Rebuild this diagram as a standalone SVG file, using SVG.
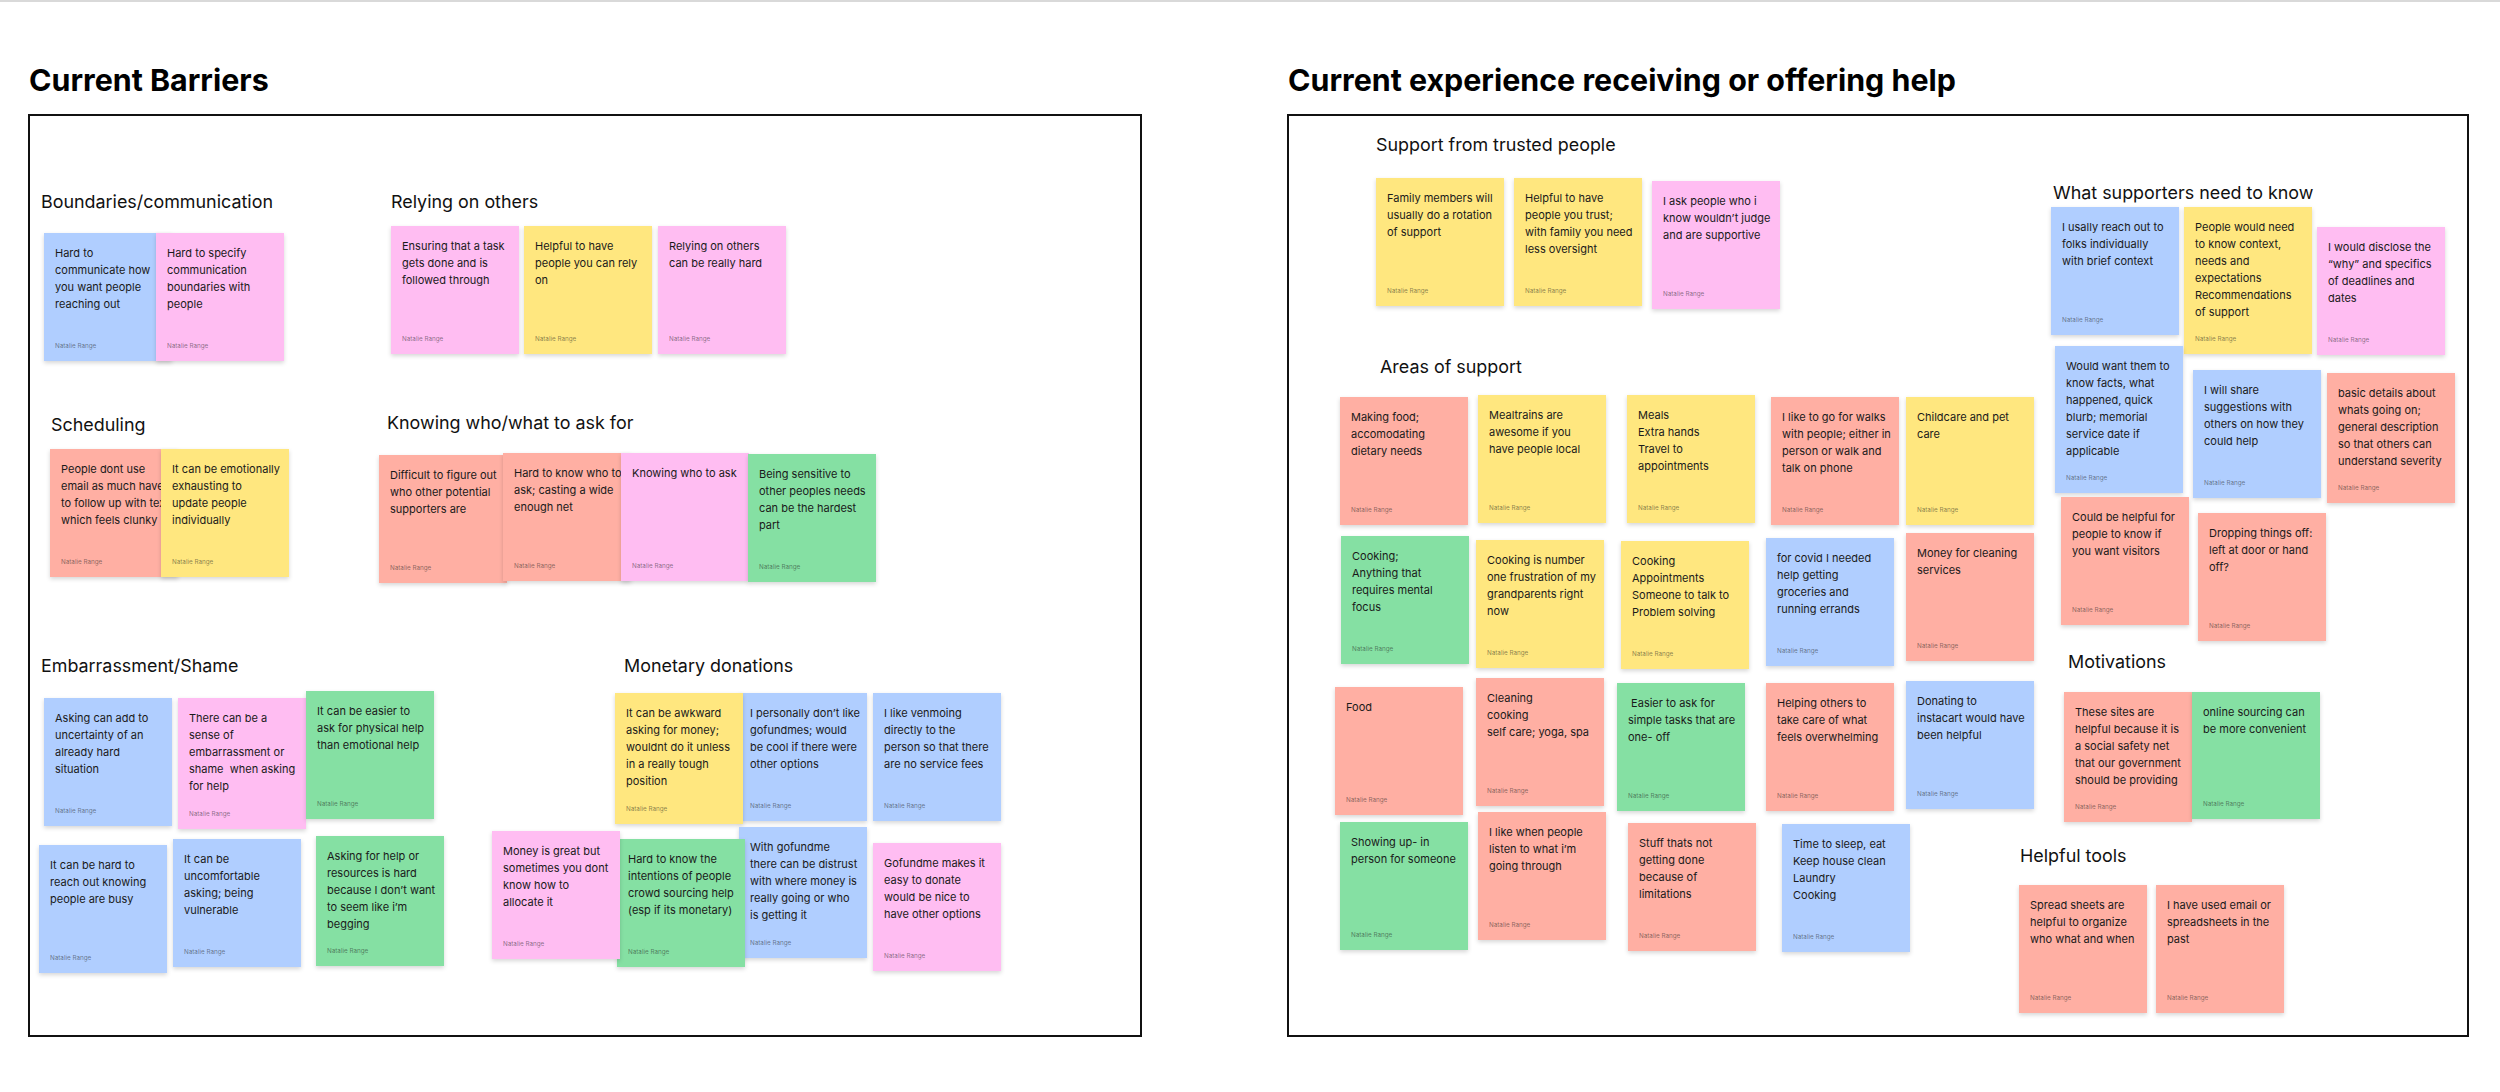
<svg xmlns="http://www.w3.org/2000/svg" width="2500" height="1092" viewBox="0 0 2500 1092">
<defs>
<filter id="sh" x="-10%" y="-10%" width="120%" height="125%"><feDropShadow dx="0" dy="2" stdDeviation="2" flood-color="#000" flood-opacity="0.16"/></filter>
<style>
text{font-family:Inter,"Noto Sans","Liberation Sans",sans-serif;white-space:pre}
.T{font-size:30.4px;font-weight:700;fill:#000}
.h{font-size:17.9px;fill:#111}
.t{font-size:11px;fill:#1a1a1a}
.a{font-size:6.3px;fill:#1e1e1e;fill-opacity:0.55}
.frame{fill:none;stroke:#111;stroke-width:2}
rect.s{filter:url(#sh)}
.Y{fill:#FFE77F}.P{fill:#FFBDF2}.B{fill:#B0CEFF}.G{fill:#85E0A3}.R{fill:#FFAFA3}
</style>
</defs>
<rect x="0" y="0" width="2500" height="1092" fill="#fff"/>
<rect x="0" y="0" width="2500" height="2" fill="#d9d9d9"/>

<g id="title-left"><text class="T" x="29" y="91">Current Barriers</text></g>
<g id="title-right"><text class="T" x="1288" y="91">Current experience receiving or offering help</text></g>
<g id="frame-left"><rect class="frame" x="29" y="115" width="1112" height="921"/></g>
<g id="frame-right"><rect class="frame" x="1288" y="115" width="1180" height="921"/></g>

<g id="headings">
<text class="h" x="41" y="208">Boundaries/communication</text>
<text class="h" x="391" y="208">Relying on others</text>
<text class="h" x="51" y="431">Scheduling</text>
<text class="h" x="387" y="429">Knowing who/what to ask for</text>
<text class="h" x="41" y="672">Embarrassment/Shame</text>
<text class="h" x="624" y="672">Monetary donations</text>
<text class="h" x="1376" y="151">Support from trusted people</text>
<text class="h" x="1380" y="373">Areas of support</text>
<text class="h" x="2053" y="199">What supporters need to know</text>
<text class="h" x="2068" y="668">Motivations</text>
<text class="h" x="2020" y="862">Helpful tools</text>
</g>

<!-- Left panel notes -->
<g id="n1" transform="translate(44,233)"><rect class="s B" width="128" height="128"/><text class="t"><tspan x="11" y="24">Hard to</tspan><tspan x="11" y="41">communicate how</tspan><tspan x="11" y="58">you want people</tspan><tspan x="11" y="75">reaching out</tspan></text><text class="a" x="11" y="115">Natalie Range</text></g>
<g id="n2" transform="translate(156,233)"><rect class="s P" width="128" height="128"/><text class="t"><tspan x="11" y="24">Hard to specify</tspan><tspan x="11" y="41">communication</tspan><tspan x="11" y="58">boundaries with</tspan><tspan x="11" y="75">people</tspan></text><text class="a" x="11" y="115">Natalie Range</text></g>
<g id="n3" transform="translate(391,226)"><rect class="s P" width="128" height="128"/><text class="t"><tspan x="11" y="24">Ensuring that a task</tspan><tspan x="11" y="41">gets done and is</tspan><tspan x="11" y="58">followed through</tspan></text><text class="a" x="11" y="115">Natalie Range</text></g>
<g id="n4" transform="translate(524,226)"><rect class="s Y" width="128" height="128"/><text class="t"><tspan x="11" y="24">Helpful to have</tspan><tspan x="11" y="41">people you can rely</tspan><tspan x="11" y="58">on</tspan></text><text class="a" x="11" y="115">Natalie Range</text></g>
<g id="n5" transform="translate(658,226)"><rect class="s P" width="128" height="128"/><text class="t"><tspan x="11" y="24">Relying on others</tspan><tspan x="11" y="41">can be really hard</tspan></text><text class="a" x="11" y="115">Natalie Range</text></g>
<g id="n6" transform="translate(50,449)"><rect class="s R" width="128" height="128"/><text class="t"><tspan x="11" y="24">People dont use</tspan><tspan x="11" y="41">email as much have</tspan><tspan x="11" y="58">to follow up with text</tspan><tspan x="11" y="75">which feels clunky</tspan></text><text class="a" x="11" y="115">Natalie Range</text></g>
<g id="n7" transform="translate(161,449)"><rect class="s Y" width="128" height="128"/><text class="t"><tspan x="11" y="24">It can be emotionally</tspan><tspan x="11" y="41">exhausting to</tspan><tspan x="11" y="58">update people</tspan><tspan x="11" y="75">individually</tspan></text><text class="a" x="11" y="115">Natalie Range</text></g>
<g id="n8" transform="translate(379,455)"><rect class="s R" width="128" height="128"/><text class="t"><tspan x="11" y="24">Difficult to figure out</tspan><tspan x="11" y="41">who other potential</tspan><tspan x="11" y="58">supporters are</tspan></text><text class="a" x="11" y="115">Natalie Range</text></g>
<g id="n9" transform="translate(503,453)"><rect class="s R" width="128" height="128"/><text class="t"><tspan x="11" y="24">Hard to know who to</tspan><tspan x="11" y="41">ask; casting a wide</tspan><tspan x="11" y="58">enough net</tspan></text><text class="a" x="11" y="115">Natalie Range</text></g>
<g id="n10" transform="translate(621,453)"><rect class="s P" width="128" height="128"/><text class="t"><tspan x="11" y="24">Knowing who to ask</tspan></text><text class="a" x="11" y="115">Natalie Range</text></g>
<g id="n11" transform="translate(748,454)"><rect class="s G" width="128" height="128"/><text class="t"><tspan x="11" y="24">Being sensitive to</tspan><tspan x="11" y="41">other peoples needs</tspan><tspan x="11" y="58">can be the hardest</tspan><tspan x="11" y="75">part</tspan></text><text class="a" x="11" y="115">Natalie Range</text></g>
<g id="n12" transform="translate(44,698)"><rect class="s B" width="128" height="128"/><text class="t"><tspan x="11" y="24">Asking can add to</tspan><tspan x="11" y="41">uncertainty of an</tspan><tspan x="11" y="58">already hard</tspan><tspan x="11" y="75">situation</tspan></text><text class="a" x="11" y="115">Natalie Range</text></g>
<g id="n13" transform="translate(178,698)"><rect class="s P" width="128" height="131"/><text class="t"><tspan x="11" y="24">There can be a</tspan><tspan x="11" y="41">sense of</tspan><tspan x="11" y="58">embarrassment or</tspan><tspan x="11" y="75">shame  when asking</tspan><tspan x="11" y="92">for help</tspan></text><text class="a" x="11" y="118">Natalie Range</text></g>
<g id="n14" transform="translate(306,691)"><rect class="s G" width="128" height="128"/><text class="t"><tspan x="11" y="24">It can be easier to</tspan><tspan x="11" y="41">ask for physical help</tspan><tspan x="11" y="58">than emotional help</tspan></text><text class="a" x="11" y="115">Natalie Range</text></g>
<g id="n15" transform="translate(39,845)"><rect class="s B" width="128" height="128"/><text class="t"><tspan x="11" y="24">It can be hard to</tspan><tspan x="11" y="41">reach out knowing</tspan><tspan x="11" y="58">people are busy</tspan></text><text class="a" x="11" y="115">Natalie Range</text></g>
<g id="n16" transform="translate(173,839)"><rect class="s B" width="128" height="128"/><text class="t"><tspan x="11" y="24">It can be</tspan><tspan x="11" y="41">uncomfortable</tspan><tspan x="11" y="58">asking; being</tspan><tspan x="11" y="75">vulnerable</tspan></text><text class="a" x="11" y="115">Natalie Range</text></g>
<g id="n17" transform="translate(316,836)"><rect class="s G" width="128" height="130"/><text class="t"><tspan x="11" y="24">Asking for help or</tspan><tspan x="11" y="41">resources is hard</tspan><tspan x="11" y="58">because I don’t want</tspan><tspan x="11" y="75">to seem like i’m</tspan><tspan x="11" y="92">begging</tspan></text><text class="a" x="11" y="117">Natalie Range</text></g>
<g id="n19" transform="translate(739,693)"><rect class="s B" width="128" height="128"/><text class="t"><tspan x="11" y="24">I personally don’t like</tspan><tspan x="11" y="41">gofundmes; would</tspan><tspan x="11" y="58">be cool if there were</tspan><tspan x="11" y="75">other options</tspan></text><text class="a" x="11" y="115">Natalie Range</text></g>
<g id="n18" transform="translate(615,693)"><rect class="s Y" width="128" height="131"/><text class="t"><tspan x="11" y="24">It can be awkward</tspan><tspan x="11" y="41">asking for money;</tspan><tspan x="11" y="58">wouldnt do it unless</tspan><tspan x="11" y="75">in a really tough</tspan><tspan x="11" y="92">position</tspan></text><text class="a" x="11" y="118">Natalie Range</text></g>
<g id="n20" transform="translate(873,693)"><rect class="s B" width="128" height="128"/><text class="t"><tspan x="11" y="24">I like venmoing</tspan><tspan x="11" y="41">directly to the</tspan><tspan x="11" y="58">person so that there</tspan><tspan x="11" y="75">are no service fees</tspan></text><text class="a" x="11" y="115">Natalie Range</text></g>
<g id="n23" transform="translate(739,827)"><rect class="s B" width="128" height="131"/><text class="t"><tspan x="11" y="24">With gofundme</tspan><tspan x="11" y="41">there can be distrust</tspan><tspan x="11" y="58">with where money is</tspan><tspan x="11" y="75">really going or who</tspan><tspan x="11" y="92">is getting it</tspan></text><text class="a" x="11" y="118">Natalie Range</text></g>
<g id="n22" transform="translate(617,839)"><rect class="s G" width="128" height="128"/><text class="t"><tspan x="11" y="24">Hard to know the</tspan><tspan x="11" y="41">intentions of people</tspan><tspan x="11" y="58">crowd sourcing help</tspan><tspan x="11" y="75">(esp if its monetary)</tspan></text><text class="a" x="11" y="115">Natalie Range</text></g>
<g id="n21" transform="translate(492,831)"><rect class="s P" width="128" height="128"/><text class="t"><tspan x="11" y="24">Money is great but</tspan><tspan x="11" y="41">sometimes you dont</tspan><tspan x="11" y="58">know how to</tspan><tspan x="11" y="75">allocate it</tspan></text><text class="a" x="11" y="115">Natalie Range</text></g>
<g id="n24" transform="translate(873,843)"><rect class="s P" width="128" height="128"/><text class="t"><tspan x="11" y="24">Gofundme makes it</tspan><tspan x="11" y="41">easy to donate</tspan><tspan x="11" y="58">would be nice to</tspan><tspan x="11" y="75">have other options</tspan></text><text class="a" x="11" y="115">Natalie Range</text></g>

<!-- Right panel notes -->
<g id="n25" transform="translate(1376,178)"><rect class="s Y" width="128" height="128"/><text class="t"><tspan x="11" y="24">Family members will</tspan><tspan x="11" y="41">usually do a rotation</tspan><tspan x="11" y="58">of support</tspan></text><text class="a" x="11" y="115">Natalie Range</text></g>
<g id="n26" transform="translate(1514,178)"><rect class="s Y" width="128" height="128"/><text class="t"><tspan x="11" y="24">Helpful to have</tspan><tspan x="11" y="41">people you trust;</tspan><tspan x="11" y="58">with family you need</tspan><tspan x="11" y="75">less oversight</tspan></text><text class="a" x="11" y="115">Natalie Range</text></g>
<g id="n27" transform="translate(1652,181)"><rect class="s P" width="128" height="128"/><text class="t"><tspan x="11" y="24">I ask people who i</tspan><tspan x="11" y="41">know wouldn’t judge</tspan><tspan x="11" y="58">and are supportive</tspan></text><text class="a" x="11" y="115">Natalie Range</text></g>
<g id="n28" transform="translate(1340,397)"><rect class="s R" width="128" height="128"/><text class="t"><tspan x="11" y="24">Making food;</tspan><tspan x="11" y="41">accomodating</tspan><tspan x="11" y="58">dietary needs</tspan></text><text class="a" x="11" y="115">Natalie Range</text></g>
<g id="n29" transform="translate(1478,395)"><rect class="s Y" width="128" height="128"/><text class="t"><tspan x="11" y="24">Mealtrains are</tspan><tspan x="11" y="41">awesome if you</tspan><tspan x="11" y="58">have people local</tspan></text><text class="a" x="11" y="115">Natalie Range</text></g>
<g id="n30" transform="translate(1627,395)"><rect class="s Y" width="128" height="128"/><text class="t"><tspan x="11" y="24">Meals</tspan><tspan x="11" y="41">Extra hands</tspan><tspan x="11" y="58">Travel to</tspan><tspan x="11" y="75">appointments</tspan></text><text class="a" x="11" y="115">Natalie Range</text></g>
<g id="n31" transform="translate(1771,397)"><rect class="s R" width="128" height="128"/><text class="t"><tspan x="11" y="24">I like to go for walks</tspan><tspan x="11" y="41">with people; either in</tspan><tspan x="11" y="58">person or walk and</tspan><tspan x="11" y="75">talk on phone</tspan></text><text class="a" x="11" y="115">Natalie Range</text></g>
<g id="n32" transform="translate(1906,397)"><rect class="s Y" width="128" height="128"/><text class="t"><tspan x="11" y="24">Childcare and pet</tspan><tspan x="11" y="41">care</tspan></text><text class="a" x="11" y="115">Natalie Range</text></g>
<g id="n33" transform="translate(1341,536)"><rect class="s G" width="128" height="128"/><text class="t"><tspan x="11" y="24">Cooking;</tspan><tspan x="11" y="41">Anything that</tspan><tspan x="11" y="58">requires mental</tspan><tspan x="11" y="75">focus</tspan></text><text class="a" x="11" y="115">Natalie Range</text></g>
<g id="n34" transform="translate(1476,540)"><rect class="s Y" width="128" height="128"/><text class="t"><tspan x="11" y="24">Cooking is number</tspan><tspan x="11" y="41">one frustration of my</tspan><tspan x="11" y="58">grandparents right</tspan><tspan x="11" y="75">now</tspan></text><text class="a" x="11" y="115">Natalie Range</text></g>
<g id="n35" transform="translate(1621,541)"><rect class="s Y" width="128" height="128"/><text class="t"><tspan x="11" y="24">Cooking</tspan><tspan x="11" y="41">Appointments</tspan><tspan x="11" y="58">Someone to talk to</tspan><tspan x="11" y="75">Problem solving</tspan></text><text class="a" x="11" y="115">Natalie Range</text></g>
<g id="n36" transform="translate(1766,538)"><rect class="s B" width="128" height="128"/><text class="t"><tspan x="11" y="24">for covid I needed</tspan><tspan x="11" y="41">help getting</tspan><tspan x="11" y="58">groceries and</tspan><tspan x="11" y="75">running errands</tspan></text><text class="a" x="11" y="115">Natalie Range</text></g>
<g id="n37" transform="translate(1906,533)"><rect class="s R" width="128" height="128"/><text class="t"><tspan x="11" y="24">Money for cleaning</tspan><tspan x="11" y="41">services</tspan></text><text class="a" x="11" y="115">Natalie Range</text></g>
<g id="n38" transform="translate(1335,687)"><rect class="s R" width="128" height="128"/><text class="t"><tspan x="11" y="24">Food</tspan></text><text class="a" x="11" y="115">Natalie Range</text></g>
<g id="n39" transform="translate(1476,678)"><rect class="s R" width="128" height="128"/><text class="t"><tspan x="11" y="24">Cleaning</tspan><tspan x="11" y="41">cooking</tspan><tspan x="11" y="58">self care; yoga, spa</tspan></text><text class="a" x="11" y="115">Natalie Range</text></g>
<g id="n40" transform="translate(1617,683)"><rect class="s G" width="128" height="128"/><text class="t"><tspan x="11" y="24"> Easier to ask for</tspan><tspan x="11" y="41">simple tasks that are</tspan><tspan x="11" y="58">one- off</tspan></text><text class="a" x="11" y="115">Natalie Range</text></g>
<g id="n41" transform="translate(1766,683)"><rect class="s R" width="128" height="128"/><text class="t"><tspan x="11" y="24">Helping others to</tspan><tspan x="11" y="41">take care of what</tspan><tspan x="11" y="58">feels overwhelming</tspan></text><text class="a" x="11" y="115">Natalie Range</text></g>
<g id="n42" transform="translate(1906,681)"><rect class="s B" width="128" height="128"/><text class="t"><tspan x="11" y="24">Donating to</tspan><tspan x="11" y="41">instacart would have</tspan><tspan x="11" y="58">been helpful</tspan></text><text class="a" x="11" y="115">Natalie Range</text></g>
<g id="n43" transform="translate(1340,822)"><rect class="s G" width="128" height="128"/><text class="t"><tspan x="11" y="24">Showing up- in</tspan><tspan x="11" y="41">person for someone</tspan></text><text class="a" x="11" y="115">Natalie Range</text></g>
<g id="n44" transform="translate(1478,812)"><rect class="s R" width="128" height="128"/><text class="t"><tspan x="11" y="24">I like when people</tspan><tspan x="11" y="41">listen to what i’m</tspan><tspan x="11" y="58">going through</tspan></text><text class="a" x="11" y="115">Natalie Range</text></g>
<g id="n45" transform="translate(1628,823)"><rect class="s R" width="128" height="128"/><text class="t"><tspan x="11" y="24">Stuff thats not</tspan><tspan x="11" y="41">getting done</tspan><tspan x="11" y="58">because of</tspan><tspan x="11" y="75">limitations</tspan></text><text class="a" x="11" y="115">Natalie Range</text></g>
<g id="n46" transform="translate(1782,824)"><rect class="s B" width="128" height="128"/><text class="t"><tspan x="11" y="24">Time to sleep, eat</tspan><tspan x="11" y="41">Keep house clean</tspan><tspan x="11" y="58">Laundry</tspan><tspan x="11" y="75">Cooking</tspan></text><text class="a" x="11" y="115">Natalie Range</text></g>
<g id="n47" transform="translate(2051,207)"><rect class="s B" width="128" height="128"/><text class="t"><tspan x="11" y="24">I usally reach out to</tspan><tspan x="11" y="41">folks individually</tspan><tspan x="11" y="58">with brief context</tspan></text><text class="a" x="11" y="115">Natalie Range</text></g>
<g id="n48" transform="translate(2184,207)"><rect class="s Y" width="128" height="147"/><text class="t"><tspan x="11" y="24">People would need</tspan><tspan x="11" y="41">to know context,</tspan><tspan x="11" y="58">needs and</tspan><tspan x="11" y="75">expectations</tspan><tspan x="11" y="92">Recommendations</tspan><tspan x="11" y="109">of support</tspan></text><text class="a" x="11" y="134">Natalie Range</text></g>
<g id="n49" transform="translate(2317,227)"><rect class="s P" width="128" height="128"/><text class="t"><tspan x="11" y="24">I would disclose the</tspan><tspan x="11" y="41">“why” and specifics</tspan><tspan x="11" y="58">of deadlines and</tspan><tspan x="11" y="75">dates</tspan></text><text class="a" x="11" y="115">Natalie Range</text></g>
<g id="n50" transform="translate(2055,346)"><rect class="s B" width="128" height="147"/><text class="t"><tspan x="11" y="24">Would want them to</tspan><tspan x="11" y="41">know facts, what</tspan><tspan x="11" y="58">happened, quick</tspan><tspan x="11" y="75">blurb; memorial</tspan><tspan x="11" y="92">service date if</tspan><tspan x="11" y="109">applicable</tspan></text><text class="a" x="11" y="134">Natalie Range</text></g>
<g id="n51" transform="translate(2193,370)"><rect class="s B" width="128" height="128"/><text class="t"><tspan x="11" y="24">I will share</tspan><tspan x="11" y="41">suggestions with</tspan><tspan x="11" y="58">others on how they</tspan><tspan x="11" y="75">could help</tspan></text><text class="a" x="11" y="115">Natalie Range</text></g>
<g id="n52" transform="translate(2327,373)"><rect class="s R" width="128" height="130"/><text class="t"><tspan x="11" y="24">basic details about</tspan><tspan x="11" y="41">whats going on;</tspan><tspan x="11" y="58">general description</tspan><tspan x="11" y="75">so that others can</tspan><tspan x="11" y="92">understand severity</tspan></text><text class="a" x="11" y="117">Natalie Range</text></g>
<g id="n53" transform="translate(2061,497)"><rect class="s R" width="128" height="128"/><text class="t"><tspan x="11" y="24">Could be helpful for</tspan><tspan x="11" y="41">people to know if</tspan><tspan x="11" y="58">you want visitors</tspan></text><text class="a" x="11" y="115">Natalie Range</text></g>
<g id="n54" transform="translate(2198,513)"><rect class="s R" width="128" height="128"/><text class="t"><tspan x="11" y="24">Dropping things off:</tspan><tspan x="11" y="41">left at door or hand</tspan><tspan x="11" y="58">off?</tspan></text><text class="a" x="11" y="115">Natalie Range</text></g>
<g id="n55" transform="translate(2064,692)"><rect class="s R" width="128" height="130"/><text class="t"><tspan x="11" y="24">These sites are</tspan><tspan x="11" y="41">helpful because it is</tspan><tspan x="11" y="58">a social safety net</tspan><tspan x="11" y="75">that our government</tspan><tspan x="11" y="92">should be providing</tspan></text><text class="a" x="11" y="117">Natalie Range</text></g>
<g id="n56" transform="translate(2192,692)"><rect class="s G" width="128" height="127"/><text class="t"><tspan x="11" y="24">online sourcing can</tspan><tspan x="11" y="41">be more convenient</tspan></text><text class="a" x="11" y="114">Natalie Range</text></g>
<g id="n57" transform="translate(2019,885)"><rect class="s R" width="128" height="128"/><text class="t"><tspan x="11" y="24">Spread sheets are</tspan><tspan x="11" y="41">helpful to organize</tspan><tspan x="11" y="58">who what and when</tspan></text><text class="a" x="11" y="115">Natalie Range</text></g>
<g id="n58" transform="translate(2156,885)"><rect class="s R" width="128" height="128"/><text class="t"><tspan x="11" y="24">I have used email or</tspan><tspan x="11" y="41">spreadsheets in the</tspan><tspan x="11" y="58">past</tspan></text><text class="a" x="11" y="115">Natalie Range</text></g>
</svg>
